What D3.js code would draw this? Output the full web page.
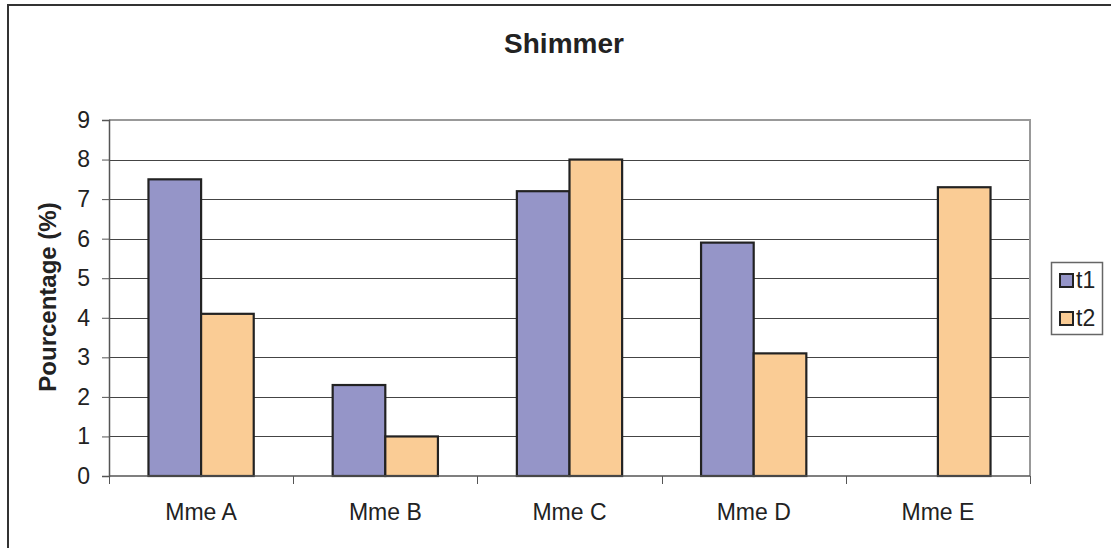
<!DOCTYPE html>
<html>
<head>
<meta charset="utf-8">
<script src="https://cdn.jsdelivr.net/npm/d3@7"></script>
<style>
  body { margin: 0; background: #fff; }
  svg { display: block; font-family: "Liberation Sans", Arial, sans-serif; }
</style>
</head>
<body>
<svg id="chart"></svg>
<script>
// chart data
var categories = ["Mme A", "Mme B", "Mme C", "Mme D", "Mme E"];
var seriesNames = ["t1", "t2"];
var t1Values = [7.5, 2.3, 7.2, 5.9, null];
var t2Values = [4.1, 1.0, 8.0, 3.1, 7.3];
var yTicks = [0, 1, 2, 3, 4, 5, 6, 7, 8, 9];
var colors = ["#9595c8", "#facc95"];

(function barChart() {
    var svg = d3.select("#chart").attr("width", 1111).attr("height", 548),
        margin = {top: 120, right: 81, bottom: 72, left: 109},
        width = 1111 - margin.left - margin.right,
        height = 548 - margin.top - margin.bottom;

    // outer chart border (cut by the window on right and bottom)
    svg.append("rect")
        .attr("x", 8).attr("y", 5)
        .attr("width", 1120).attr("height", 560)
        .attr("fill", "none")
        .attr("stroke", "#333")
        .attr("stroke-width", 2);

    var g = svg.append("g").attr("transform", "translate(" + margin.left + "," + margin.top + ")");

    var x0 = d3.scaleBand().domain(categories).range([0, width]).paddingInner(0).paddingOuter(0);
    // excel gap width 150%: bars take 2/3.5 of the band
    var x1 = d3.scaleBand().domain(seriesNames)
        .range([x0.bandwidth() * 0.75 / 3.5, x0.bandwidth() * (0.75 + 2) / 3.5]);
    var y = d3.scaleLinear().domain([0, 9]).range([height, 0]);
    var z = d3.scaleOrdinal().domain(seriesNames).range(colors);

    // gridlines
    g.append("g")
        .selectAll("line")
        .data(yTicks.slice(1, -1))
        .enter().append("line")
        .attr("x1", 0).attr("x2", width)
        .attr("y1", function (d) { return Math.round(y(d)) + 0.5; })
        .attr("y2", function (d) { return Math.round(y(d)) + 0.5; })
        .attr("stroke", "#444")
        .attr("stroke-width", 1);

    // plot border top and right
    g.append("path")
        .attr("d", "M0," + y(9) + "H" + width + "V" + height)
        .attr("fill", "none")
        .attr("stroke", "#999")
        .attr("stroke-width", 2);

    // bars
    var rows = categories.map(function (c, i) {
        return {cat: c, vals: [t1Values[i], t2Values[i]]};
    });
    g.append("g")
        .selectAll("g")
        .data(rows)
        .enter().append("g")
        .attr("transform", function (d) { return "translate(" + x0(d.cat) + ",0)"; })
        .selectAll("rect")
        .data(function (d) {
            return seriesNames.map(function (k, j) { return {key: k, value: d.vals[j]}; })
                .filter(function (e) { return e.value != null; });
        })
        .enter().append("rect")
        .attr("x", function (d) { return x1(d.key); })
        .attr("y", function (d) { return y(d.value); })
        .attr("width", x1.bandwidth())
        .attr("height", function (d) { return height - y(d.value); })
        .attr("fill", function (d) { return z(d.key); })
        .attr("stroke", "#222")
        .attr("stroke-width", 2.2);

    // y axis
    var yAxis = g.append("g")
        .attr("class", "axis axis--y")
        .call(d3.axisLeft(y).tickValues(yTicks).tickSize(7).tickPadding(12).tickFormat(d3.format("d")));
    yAxis.attr("font-size", null).attr("font-family", null);
    yAxis.select(".domain").attr("stroke", "#555").attr("stroke-width", 1.5);
    yAxis.selectAll(".tick line").attr("stroke", "#555");
    yAxis.selectAll("text").attr("font-size", "23px").attr("fill", "#222");

    // x axis
    var xAxis = g.append("g")
        .attr("class", "axis axis--x")
        .attr("transform", "translate(0," + height + ")");
    xAxis.append("line")
        .attr("x1", 0).attr("x2", width)
        .attr("stroke", "#555").attr("stroke-width", 1.5);
    xAxis.selectAll(".sep")
        .data(d3.range(categories.length + 1))
        .enter().append("line")
        .attr("class", "sep")
        .attr("x1", function (i) { return Math.round(i * x0.step()) + 0.5; })
        .attr("x2", function (i) { return Math.round(i * x0.step()) + 0.5; })
        .attr("y1", 0).attr("y2", 8)
        .attr("stroke", "#555");
    xAxis.selectAll(".lbl")
        .data(categories)
        .enter().append("text")
        .attr("class", "lbl")
        .attr("x", function (d) { return x0(d) + x0.bandwidth() / 2; })
        .attr("y", 44)
        .attr("text-anchor", "middle")
        .attr("font-size", "23px")
        .attr("fill", "#222")
        .text(function (d) { return d; });

    // title
    svg.append("text")
        .attr("x", 564)
        .attr("y", 53)
        .attr("text-anchor", "middle")
        .attr("font-size", "28px")
        .attr("font-weight", "bold")
        .attr("fill", "#222")
        .text("Shimmer");

    // y axis label
    svg.append("text")
        .attr("transform", "translate(56,297) rotate(-90)")
        .attr("text-anchor", "middle")
        .attr("font-size", "24px")
        .attr("font-weight", "bold")
        .attr("fill", "#222")
        .text("Pourcentage (%)");

    // legend
    var legend = svg.append("g").attr("transform", "translate(1051,262)");
    legend.append("rect")
        .attr("x", 0.5).attr("y", 0.5)
        .attr("width", 51).attr("height", 72)
        .attr("fill", "#fff")
        .attr("stroke", "#666")
        .attr("stroke-width", 1.5);
    var item = legend.selectAll(".item")
        .data(seriesNames)
        .enter().append("g")
        .attr("class", "item")
        .attr("transform", function (d, i) { return "translate(0," + (18 + i * 38) + ")"; });
    item.append("rect")
        .attr("x", 9).attr("y", -6)
        .attr("width", 13).attr("height", 13)
        .attr("fill", z)
        .attr("stroke", "#222")
        .attr("stroke-width", 2);
    item.append("text")
        .attr("x", 25)
        .attr("y", 0)
        .attr("dy", "0.36em")
        .attr("font-size", "23px")
        .attr("fill", "#222")
        .text(function (d) { return d; });
}());
</script>
</body>
</html>
